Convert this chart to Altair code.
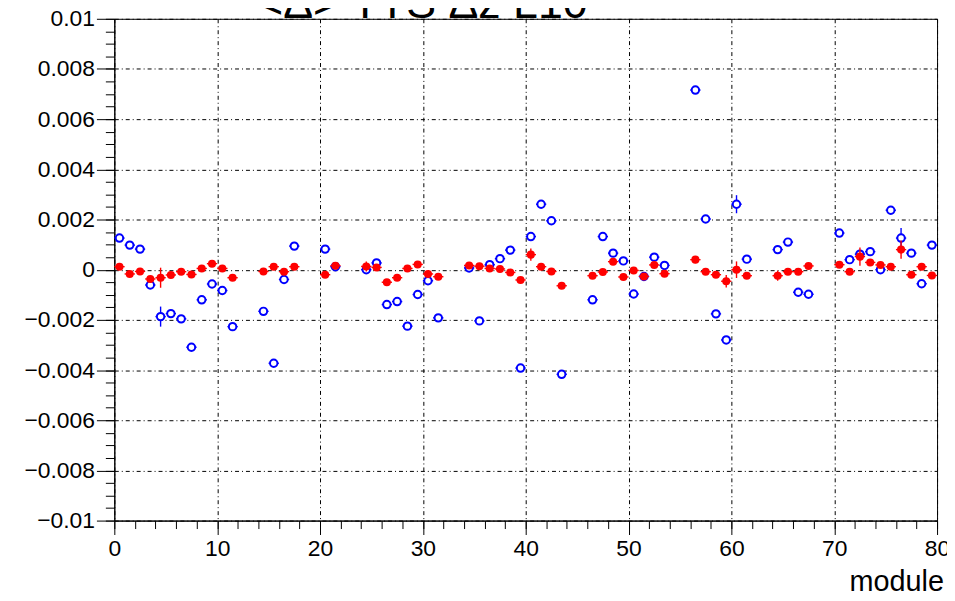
import altair as alt
import pandas as pd

TITLE = "<Δ> TTS Δz L10"
X_TITLE = "module"

BLUE_X = [0.5, 1.5, 2.5, 3.5, 4.5, 5.5, 6.5, 7.5, 8.5, 9.5, 10.5, 11.5,
          14.5, 15.5, 16.5, 17.5, 20.5, 21.5,
          24.5, 25.5, 26.5, 27.5, 28.5, 29.5, 30.5, 31.5,
          34.5, 35.5, 36.5, 37.5, 38.5, 39.5, 40.5, 41.5, 42.5, 43.5,
          46.5, 47.5, 48.5, 49.5, 50.5, 51.5, 52.5, 53.5,
          56.5, 57.5, 58.5, 59.5, 60.5, 61.5,
          64.5, 65.5, 66.5, 67.5,
          70.5, 71.5, 72.5, 73.5, 74.5, 75.5, 76.5, 77.5, 78.5, 79.5]
BLUE_Y = [0.00126, 0.00098, 0.00082, -0.00061, -0.00187, -0.00175, -0.00196, -0.00309, -0.00120, -0.00057, -0.00083, -0.00227,
          -0.00166, -0.00373, -0.00039, 0.00094, 0.00082, 0.00012,
          0.00000, 0.00027, -0.00139, -0.00127, -0.00225, -0.00099, -0.00044, -0.00192,
          0.00007, -0.00204, 0.00020, 0.00044, 0.00078, -0.00392, 0.00132, 0.00261, 0.00195, -0.00417,
          -0.00120, 0.00132, 0.00066, 0.00035, -0.00097, -0.00027, 0.00050, 0.00017,
          0.00716, 0.00202, -0.00176, -0.00280, 0.00261, 0.00042,
          0.00080, 0.00110, -0.00090, -0.00098,
          0.00146, 0.00040, 0.00062, 0.00072, 0.00000, 0.00237, 0.00126, 0.00066, -0.00056, 0.00098]
BLUE_ERR = [0.00008, 0.00008, 0.00008, 0.00008, 0.00040, 0.00008, 0.00008, 0.00008, 0.00008, 0.00008, 0.00008, 0.00008,
            0.00008, 0.00008, 0.00008, 0.00008, 0.00008, 0.00008,
            0.00012, 0.00010, 0.00008, 0.00008, 0.00012, 0.00008, 0.00008, 0.00008,
            0.00008, 0.00008, 0.00008, 0.00008, 0.00008, 0.00008, 0.00010, 0.00008, 0.00008, 0.00008,
            0.00008, 0.00008, 0.00010, 0.00008, 0.00008, 0.00008, 0.00010, 0.00008,
            0.00008, 0.00008, 0.00008, 0.00010, 0.00036, 0.00008,
            0.00008, 0.00008, 0.00008, 0.00008,
            0.00008, 0.00008, 0.00012, 0.00008, 0.00008, 0.00008, 0.00040, 0.00008, 0.00008, 0.00010]

RED_X = BLUE_X
RED_Y = [0.00012, -0.00017, -0.00007, -0.00037, -0.00032, -0.00021, -0.00008, -0.00019, 0.00005, 0.00024, 0.00005, -0.00032,
         -0.00007, 0.00012, -0.00008, 0.00012, -0.00020, 0.00016,
         0.00013, 0.00009, -0.00050, -0.00032, 0.00005, 0.00021, -0.00017, -0.00028,
         0.00017, 0.00014, 0.00005, 0.00003, -0.00011, -0.00041, 0.00060, 0.00012, -0.00007, -0.00064,
         -0.00024, -0.00009, 0.00032, -0.00029, -0.00003, -0.00027, 0.00019, -0.00016,
         0.00040, -0.00008, -0.00020, -0.00046, 0.00000, -0.00024,
         -0.00024, -0.00008, -0.00008, 0.00015,
         0.00020, -0.00008, 0.00052, 0.00029, 0.00019, 0.00012, 0.00080, -0.00020, 0.00012, -0.00023]
RED_ERR = [0.00012, 0.00010, 0.00010, 0.00012, 0.00040, 0.00010, 0.00010, 0.00010, 0.00010, 0.00012, 0.00010, 0.00010,
           0.00010, 0.00010, 0.00010, 0.00010, 0.00012, 0.00010,
           0.00020, 0.00012, 0.00012, 0.00012, 0.00012, 0.00012, 0.00010, 0.00010,
           0.00010, 0.00010, 0.00010, 0.00010, 0.00010, 0.00010, 0.00024, 0.00010, 0.00010, 0.00010,
           0.00010, 0.00010, 0.00012, 0.00010, 0.00010, 0.00010, 0.00012, 0.00010,
           0.00014, 0.00010, 0.00010, 0.00025, 0.00033, 0.00010,
           0.00020, 0.00012, 0.00010, 0.00012,
           0.00010, 0.00010, 0.00036, 0.00010, 0.00010, 0.00010, 0.00036, 0.00010, 0.00010, 0.00014]

X_MAJOR = [0, 10, 20, 30, 40, 50, 60, 70, 80]
X_MINOR = [0, 2, 4, 6, 8, 10, 12, 14, 16, 18, 20, 22, 24, 26, 28, 30, 32, 34, 36, 38,
           40, 42, 44, 46, 48, 50, 52, 54, 56, 58, 60, 62, 64, 66, 68, 70, 72, 74, 76, 78, 80]
Y_MAJOR = [-0.01, -0.008, -0.006, -0.004, -0.002, 0, 0.002, 0.004, 0.006, 0.008, 0.01]
Y_MINOR = [round(-0.01 + 0.0005 * i, 4) for i in range(41)]

FONT = "Liberation Sans"
BLUE = "#0000ff"
RED = "#ff0000"

xs = alt.Scale(domain=[0, 80], nice=False, zero=False)
ys = alt.Scale(domain=[-0.01, 0.01], nice=False, zero=False)

blue_df = pd.DataFrame({"x": BLUE_X, "y": BLUE_Y, "e": BLUE_ERR})
red_df = pd.DataFrame({"x": RED_X, "y": RED_Y, "e": RED_ERR})


def series(df, color, open_marker):
    base = alt.Chart(df).transform_calculate(
        xlo="datum.x - 0.5", xhi="datum.x + 0.5",
        ylo="datum.y - datum.e", yhi="datum.y + datum.e")
    h = base.mark_rule(color=color, strokeWidth=1.4).encode(
        x=alt.X("xlo:Q", scale=xs, axis=None), x2="xhi:Q",
        y=alt.Y("y:Q", scale=ys, axis=None))
    v = base.mark_rule(color=color, strokeWidth=1.4).encode(
        x=alt.X("x:Q", scale=xs, axis=None),
        y=alt.Y("ylo:Q", scale=ys, axis=None), y2="yhi:Q")
    if open_marker:
        p = base.mark_point(shape="circle", filled=True, fill="white", stroke=color,
                            strokeWidth=2, size=56, opacity=1)
    else:
        p = base.mark_point(shape="circle", filled=True, color=color, size=66, opacity=1)
    p = p.encode(x=alt.X("x:Q", scale=xs, axis=None), y=alt.Y("y:Q", scale=ys, axis=None))
    return [h, v, p]


major = alt.Chart(blue_df).mark_point(opacity=0).encode(
    x=alt.X("x:Q", scale=xs, axis=alt.Axis(
        values=X_MAJOR, orient="bottom", tickSize=14, tickColor="black", tickWidth=1,
        domainColor="black", domainWidth=1, labelFont=FONT, labelFontSize=23,
        labelColor="black", labelPadding=3, labelFlush=False, labelOverlap=False,
        format="d", grid=True, gridColor="black", gridDash=[4, 3, 1, 3], gridWidth=1,
        gridOpacity=1, title=None)),
    y=alt.Y("y:Q", scale=ys, axis=alt.Axis(
        values=Y_MAJOR, orient="left", tickSize=18, tickColor="black", tickWidth=1,
        domainColor="black", domainWidth=1, labelFont=FONT, labelFontSize=23,
        labelColor="black", labelPadding=2, labelFlush=False, labelOverlap=False,
        format="~g", grid=True, gridColor="black", gridDash=[4, 3, 1, 3], gridWidth=1,
        gridOpacity=1, title=None)),
)

minor = alt.Chart(blue_df).mark_point(opacity=0).encode(
    x=alt.X("x:Q", scale=xs, axis=alt.Axis(
        values=X_MINOR, orient="bottom", tickSize=8, tickColor="black", tickWidth=1,
        labels=False, domain=False, grid=False, title=None)),
    y=alt.Y("y:Q", scale=ys, axis=alt.Axis(
        values=Y_MINOR, orient="left", tickSize=9, tickColor="black", tickWidth=1,
        labels=False, domain=False, grid=False, title=None)),
)

title_txt = alt.Chart(pd.DataFrame({"t": [TITLE]})).mark_text(
    font=FONT, fontSize=45, color="black", align="center", baseline="alphabetic"
).encode(text="t:N", x=alt.value(310), y=alt.value(-1))

xtitle_txt = alt.Chart(pd.DataFrame({"t": [X_TITLE]})).mark_text(
    font=FONT, fontSize=29, color="black", align="right", baseline="alphabetic"
).encode(text="t:N", x=alt.value(835), y=alt.value(576))

layers = [major, minor] + series(blue_df, BLUE, True) + series(red_df, RED, False) + [title_txt, xtitle_txt]

chart = alt.layer(*layers).resolve_axis(x="independent", y="independent").properties(
    width=828, height=505,
    autosize=alt.AutoSizeParams(type="none"),
    padding={"left": 107, "top": 9, "right": 10, "bottom": 70},
    background="white",
).configure_view(stroke="black", strokeWidth=1)

chart.save("out.html", embed_options={"renderer": "svg", "actions": False})
